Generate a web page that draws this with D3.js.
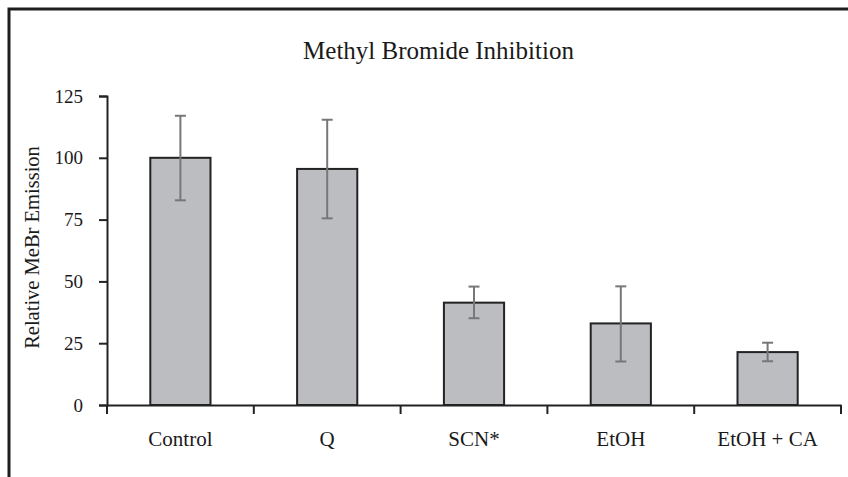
<!DOCTYPE html>
<html>
<head>
<meta charset="utf-8">
<script src="https://cdn.jsdelivr.net/npm/d3@7"></script>
<style>
  body { margin: 0; background: #fff; }
  svg { display: block; font-family: "Liberation Serif", "Times New Roman", serif; }
  .tick text { fill: #1a1a1a; }
</style>
</head>
<body>
<svg width="848" height="477"></svg>
<script>
const categories = ['Control', 'Q', 'SCN*', 'EtOH', 'EtOH + CA'];
const values = [100, 95.5, 41.4, 33.0, 21.4];
const errHigh = [117, 115.4, 47.9, 48.0, 25.2];
const errLow = [82.8, 75.5, 35.1, 17.6, 17.7];
const yTicks = [0, 25, 50, 75, 100, 125];

const data = categories.map((key, i) => ({key, value: values[i], hi: errHigh[i], lo: errLow[i]}));

const svg = d3.select('svg');

// outer frame (only top and left edges show in the reference)
svg.append('path')
  .attr('d', 'M9,477 V9 H848')
  .attr('fill', 'none')
  .attr('stroke', '#1e1e1e')
  .attr('stroke-width', 3);

const plotLeft = 107;
const plotRight = 841;
const plotTop = 96;
const plotBottom = 405;

const x = d3.scaleBand()
  .range([plotLeft, plotRight])
  .domain(categories)
  .paddingInner(0.59)
  .paddingOuter(0.295);

const y = d3.scaleLinear()
  .range([plotBottom, plotTop])
  .domain([0, 125]);

// bars
svg.append('g')
  .selectAll('rect')
  .data(data)
  .enter()
  .append('rect')
  .attr('x', d => x(d.key))
  .attr('y', d => y(d.value))
  .attr('width', x.bandwidth())
  .attr('height', d => y(0) - y(d.value))
  .attr('fill', '#bcbdc0')
  .attr('stroke', '#222')
  .attr('stroke-width', 2);

// error bars
const err = svg.append('g')
  .attr('stroke', '#777')
  .attr('stroke-width', 2);
const cx = d => x(d.key) + x.bandwidth() / 2;
err.selectAll('.stem')
  .data(data)
  .enter()
  .append('line')
  .attr('x1', cx).attr('x2', cx)
  .attr('y1', d => y(d.hi)).attr('y2', d => y(d.lo));
['hi', 'lo'].forEach(k => {
  err.selectAll('.cap-' + k)
    .data(data)
    .enter()
    .append('line')
    .attr('x1', d => cx(d) - 5.5).attr('x2', d => cx(d) + 5.5)
    .attr('y1', d => y(d[k])).attr('y2', d => y(d[k]));
});

// y axis
const yAxis = svg.append('g')
  .attr('transform', `translate(${plotLeft},0)`)
  .call(d3.axisLeft(y).tickValues(yTicks).tickSize(8).tickPadding(16));
yAxis.selectAll('.tick text').style('font-size', '19px');

// x axis with ticks between categories
const xAxis = svg.append('g')
  .attr('transform', `translate(0,${plotBottom})`)
  .call(d3.axisBottom(x).tickSize(0).tickPadding(26));
xAxis.selectAll('.tick text').style('font-size', '21px');
xAxis.selectAll('.sep')
  .data(d3.range(categories.length + 1))
  .enter()
  .append('line')
  .attr('x1', i => plotLeft + i * (plotRight - plotLeft) / categories.length)
  .attr('x2', i => plotLeft + i * (plotRight - plotLeft) / categories.length)
  .attr('y1', 0).attr('y2', 9)
  .attr('stroke', '#222')
  .attr('stroke-width', 2);

[yAxis, xAxis].forEach(a => {
  a.select('.domain').attr('stroke', '#222').attr('stroke-width', 2);
  a.selectAll('.tick line').attr('stroke', '#222').attr('stroke-width', 2);
  a.attr('font-family', null);
});

svg.append('text')
  .attr('transform', `translate(38.5,${(plotTop + plotBottom) / 2 - 3}) rotate(-90)`)
  .attr('text-anchor', 'middle')
  .style('font-size', '20.5px')
  .attr('fill', '#1a1a1a')
  .text('Relative MeBr Emission');

svg.append('text')
  .attr('x', 438.5)
  .attr('y', 58.5)
  .attr('text-anchor', 'middle')
  .style('font-size', '25px')
  .attr('fill', '#1a1a1a')
  .text('Methyl Bromide Inhibition');
</script>
</body>
</html>
